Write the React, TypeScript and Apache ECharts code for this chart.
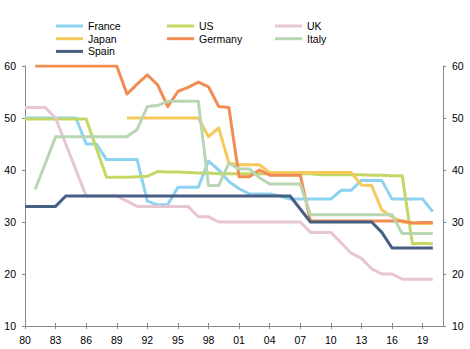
import React, { useEffect, useRef } from "react";
import * as echarts from "echarts";

const years = [
  1980, 1981, 1982, 1983, 1984, 1985, 1986, 1987, 1988, 1989,
  1990, 1991, 1992, 1993, 1994, 1995, 1996, 1997, 1998, 1999,
  2000, 2001, 2002, 2003, 2004, 2005, 2006, 2007, 2008, 2009,
  2010, 2011, 2012, 2013, 2014, 2015, 2016, 2017, 2018, 2019,
  2020, 2021,
];

const france = [
  50, 50, 50, 50, 50, 50, 45, 45, 42, 42,
  42, 42, 34, 33.3, 33.3, 36.7, 36.7, 36.7, 41.7, 40,
  37.8, 36.4, 35.4, 35.4, 35.4, 35, 34.4, 34.4, 34.4, 34.4,
  34.4, 36.1, 36.1, 38, 38, 38, 34.4, 34.4, 34.4, 34.4,
  32,
];
const us = [
  49.8, 49.8, 49.8, 49.8, 49.8, 49.8, 49.8, 44.2, 38.6, 38.6,
  38.6, 38.7, 38.8, 39.7, 39.6, 39.6, 39.5, 39.4, 39.4, 39.3,
  39.3, 39.3, 39.3, 39.3, 39.3, 39.3, 39.3, 39.3, 39.3, 39.1,
  39.1, 39.1, 39.1, 39.1, 39.0, 39.0, 38.9, 38.9, 25.8, 25.9,
  25.8,
];
const uk = [
  52, 52, 52, 50, 45, 40, 35, 35, 35, 35,
  34, 33, 33, 33, 33, 33, 33, 31, 31, 30,
  30, 30, 30, 30, 30, 30, 30, 30, 28, 28,
  28, 26, 24, 23, 21, 20, 20, 19, 19, 19,
  19,
];
const japan = [
  null, null, null, null, null, null, null, null, null, null,
  50, 50, 50, 50, 50, 50, 50, 50, 46.4, 48.1,
  41.3, 41, 41, 41, 39.5, 39.5, 39.5, 39.5, 39.5, 39.5,
  39.5, 39.5, 39.5, 37.1, 37, 32.3, 31, 30, 29.8, 29.7,
  29.7,
];
const germany = [
  null, 60, 60, 60, 60, 60, 60, 60, 60, 60,
  54.6, 56.5, 58.3, 56.4, 52.2, 55.1, 55.9, 56.9, 56, 52.2,
  52, 38.7, 38.7, 40, 39, 39, 39, 39, 30.2, 30.2,
  30.2, 30.2, 30.2, 30.2, 30.2, 30.2, 30.2, 30.2, 29.8, 29.9,
  29.9,
];
const italy = [
  null, 36.3, 41.3, 46.4, 46.4, 46.4, 46.4, 46.4, 46.4, 46.4,
  46.4, 47.8, 52.2, 52.4, 53.2, 53.2, 53.2, 53.2, 37, 37,
  41.3, 40.2, 40.2, 38.5, 37.3, 37.3, 37.3, 37.3, 31.4, 31.4,
  31.4, 31.4, 31.4, 31.4, 31.4, 31.4, 31.4, 27.8, 27.8, 27.8,
  27.8,
];
const spain = [
  33, 33, 33, 33, 35, 35, 35, 35, 35, 35,
  35, 35, 35, 35, 35, 35, 35, 35, 35, 35,
  35, 35, 35, 35, 35, 35, 35, 32.5, 30, 30,
  30, 30, 30, 30, 30, 28, 25, 25, 25, 25,
  25,
];

const seriesNames = ["France", "US", "UK", "Japan", "Germany", "Italy", "Spain"];
const seriesData = [france, us, uk, japan, germany, italy, spain];
const seriesColors = ["#8DD2F0", "#C4D764", "#E8C5D3", "#F6C95C", "#F18D52", "#B8D6B3", "#465F82"];

const legendCols = [
  ["France", "Japan", "Spain"],
  ["US", "Germany"],
  ["UK", "Italy"],
];
const legendLefts = [56, 167, 275];

const FONT = "'Liberation Sans', Arial, sans-serif";

export default function App() {
  const ref = useRef<HTMLDivElement>(null);
  useEffect(() => {
    if (!ref.current) return;
    const chart = echarts.init(ref.current, null, { renderer: "svg" });
    const axisColor = "#888888";
    const yAxisCommon = {
      type: "value",
      min: 10,
      max: 60,
      interval: 10,
      splitLine: { show: false },
      axisLine: { show: true, lineStyle: { color: axisColor, width: 1 } },
      axisTick: { show: true, length: 3, lineStyle: { color: axisColor } },
      axisLabel: { color: "#000", fontSize: 10.5, fontFamily: FONT, margin: 9 },
    };
    chart.setOption({
      animation: false,
      backgroundColor: "#fff",
      textStyle: { fontFamily: FONT },
      grid: { left: 25, right: 27, top: 66, bottom: 23, containLabel: false },
      legend: legendCols.map((col, i) => ({
        orient: "vertical",
        left: legendLefts[i],
        top: 20,
        icon: "rect",
        itemWidth: 27,
        itemHeight: 3,
        itemGap: 0.7,
        padding: 0,
        selectedMode: false,
        data: col,
        textStyle: { fontSize: 10.5, fontFamily: FONT, color: "#000", lineHeight: 12 },
      })),
      xAxis: [
        {
          type: "category",
          data: years,
          boundaryGap: false,
          axisLine: { show: true, lineStyle: { color: axisColor } },
          axisTick: { show: true, interval: 2, length: 3, lineStyle: { color: axisColor } },
          axisLabel: {
            interval: 2,
            color: "#000",
            fontSize: 10.5,
            fontFamily: FONT,
            margin: 8,
            hideOverlap: false,
            formatter: (v: string) => (Number(v) > 2020 ? "" : String(v).slice(2)),
          },
          splitLine: { show: false },
        },
        {
          type: "category",
          data: years,
          position: "bottom",
          boundaryGap: false,
          axisLine: { show: false },
          axisTick: { show: true, inside: true, interval: 2, length: 3, lineStyle: { color: axisColor } },
          axisLabel: { show: false },
          splitLine: { show: false },
        },
      ],
      yAxis: [
        { ...yAxisCommon, position: "left" },
        { ...yAxisCommon, position: "right" },
      ],
      series: seriesNames.map((name, i) => ({
        name,
        type: "line",
        data: seriesData[i],
        xAxisIndex: 0,
        yAxisIndex: 0,
        showSymbol: false,
        symbol: "none",
        connectNulls: false,
        lineStyle: { color: seriesColors[i], width: 3, join: "round" },
        itemStyle: { color: seriesColors[i] },
      })),
    });
    return () => chart.dispose();
  }, []);
  return <div ref={ref} style={{ width: 470, height: 349, position: "absolute", left: 0, top: 0 }} />;
}
